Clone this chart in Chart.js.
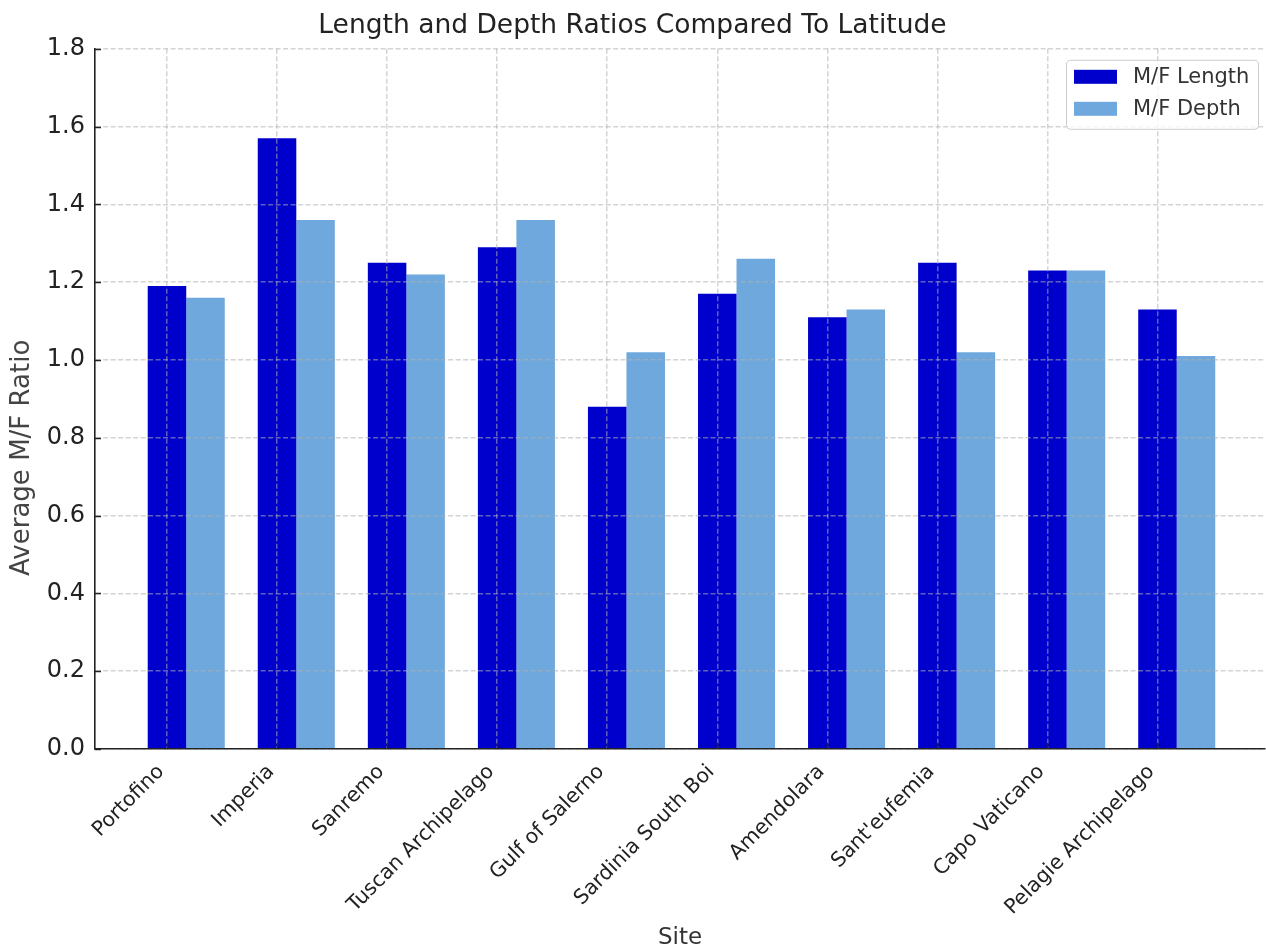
<!DOCTYPE html>
<html lang="en">
<head>
    <meta charset="UTF-8">
    <title>Length and Depth Ratios Compared To Latitude</title>
    <script src="https://cdn.jsdelivr.net/npm/chart.js"></script>
    <style>
        body {
            margin: 0;
            padding: 0;
            background: white;
        }
        .chart-container {
            width: 1266px;
            height: 949px;
        }
    </style>
</head>
<body>
    <div class="chart-container">
        <canvas id="barChart"></canvas>
    </div>

    <script>
        // data
        const sites = ['Portofino', 'Imperia', 'Sanremo', 'Tuscan Archipelago', 'Gulf of Salerno',
            'Sardinia South Boi', 'Amendolara', "Sant'eufemia", 'Capo Vaticano', 'Pelagie Archipelago'];
        const lengthRatios = [1.19, 1.57, 1.25, 1.29, 0.88, 1.17, 1.11, 1.25, 1.23, 1.13];
        const depthRatios = [1.16, 1.36, 1.22, 1.36, 1.02, 1.26, 1.13, 1.02, 1.23, 1.01];
        const yTicks = [0.0, 0.2, 0.4, 0.6, 0.8, 1.0, 1.2, 1.4, 1.6, 1.8];

        const barWidth = 0.35;
        const lengthColor = '#0000CD';
        const depthColor = '#6FA8DC';
        const gridColor = 'rgba(176, 176, 176, 0.55)';
        const font = 'DejaVu Sans';

        // bar pairs sit to the right of each tick (matplotlib x, x + width)
        const pairX = i => i + barWidth / 2;

        // inward tick marks like matplotlib's direction='in', plus the y label
        const innerTicks = {
            id: 'innerTicks',
            afterDraw(chart) {
                const { ctx, chartArea, scales } = chart;
                ctx.save();
                ctx.strokeStyle = '#222';
                ctx.lineWidth = 1.5;
                ctx.beginPath();
                yTicks.forEach(v => {
                    const py = Math.round(scales.y.getPixelForValue(v)) + 0.5;
                    ctx.moveTo(chartArea.left, py);
                    ctx.lineTo(chartArea.left + 6, py);
                });
                sites.forEach((_, i) => {
                    const px = Math.round(scales.x.getPixelForValue(i)) + 0.5;
                    ctx.moveTo(px, chartArea.bottom);
                    ctx.lineTo(px, chartArea.bottom - 6);
                });
                ctx.stroke();

                // y axis title sits a bit below the axis middle in the reference
                ctx.translate(22, chartArea.top + 409);
                ctx.rotate(-Math.PI / 2);
                ctx.font = '26px "' + font + '"';
                ctx.fillStyle = '#444';
                ctx.textAlign = 'center';
                ctx.textBaseline = 'middle';
                ctx.fillText('Average M/F Ratio', 0, 0);
                ctx.restore();
            }
        };

        // boxed legend in the upper right corner
        const boxLegend = {
            id: 'boxLegend',
            afterDraw(chart) {
                const { ctx, chartArea } = chart;
                const w = 192, h = 69;
                const x = chartArea.right - 7 - w;
                const y = chartArea.top + 11;
                ctx.save();
                ctx.beginPath();
                ctx.roundRect(x + 0.5, y + 0.5, w, h, 4);
                ctx.fillStyle = 'rgba(255, 255, 255, 0.8)';
                ctx.fill();
                ctx.strokeStyle = '#cccccc';
                ctx.lineWidth = 1;
                ctx.stroke();
                ctx.font = '21px "' + font + '"';
                ctx.textBaseline = 'middle';
                chart.data.datasets.forEach((ds, k) => {
                    const rowY = y + 10 + k * 32;
                    ctx.fillStyle = ds.backgroundColor;
                    ctx.fillRect(x + 8, rowY, 43, 14);
                    ctx.fillStyle = '#333';
                    ctx.fillText(ds.label, x + 67, rowY + 8);
                });
                ctx.restore();
            }
        };

        const ctx = document.getElementById('barChart').getContext('2d');

        new Chart(ctx, {
            type: 'bar',
            data: {
                datasets: [
                    {
                        label: 'M/F Length',
                        data: lengthRatios.map((v, i) => ({ x: pairX(i), y: v })),
                        backgroundColor: lengthColor
                    },
                    {
                        label: 'M/F Depth',
                        data: depthRatios.map((v, i) => ({ x: pairX(i), y: v })),
                        backgroundColor: depthColor
                    }
                ]
            },
            options: {
                responsive: true,
                maintainAspectRatio: false,
                animation: false,
                layout: {
                    padding: { left: 0, right: 1, top: 0, bottom: 0 }
                },
                datasets: {
                    bar: {
                        categoryPercentage: 2 * barWidth,
                        barPercentage: 1.0
                    }
                },
                scales: {
                    x: {
                        type: 'linear',
                        min: -0.654,
                        max: 9.977,
                        offset: false,
                        z: 1,
                        afterBuildTicks: axis => {
                            axis.ticks = sites.map((_, i) => ({ value: i }));
                        },
                        afterFit: axis => {
                            axis.height = 200;
                        },
                        grid: {
                            offset: false,
                            z: 1,
                            color: gridColor,
                            lineWidth: 1.5,
                            drawTicks: false
                        },
                        border: {
                            display: true,
                            color: '#222',
                            width: 1.6,
                            dash: [5, 2.5],
                            z: 2
                        },
                        ticks: {
                            autoSkip: false,
                            minRotation: 45,
                            maxRotation: 45,
                            padding: 11,
                            labelOffset: -6,
                            color: '#222',
                            font: { family: font, size: 20.5 },
                            callback: value => sites[value]
                        },
                        title: {
                            display: true,
                            text: 'Site',
                            color: '#333',
                            font: { family: font, size: 23 },
                            padding: { top: 0, bottom: -3 }
                        }
                    },
                    y: {
                        min: 0,
                        max: 1.8,
                        z: 1,
                        afterBuildTicks: axis => {
                            axis.ticks = yTicks.map(v => ({ value: v }));
                        },
                        afterFit: axis => {
                            axis.width = 95;
                        },
                        grid: {
                            z: 1,
                            color: gridColor,
                            lineWidth: 1.5,
                            drawTicks: false
                        },
                        border: {
                            display: true,
                            color: '#222',
                            width: 1.6,
                            dash: [5, 2.5],
                            z: 2
                        },
                        ticks: {
                            padding: 10,
                            color: '#222',
                            font: { family: font, size: 24 },
                            callback: value => value.toFixed(1)
                        }
                    }
                },
                plugins: {
                    legend: { display: false },
                    tooltip: { enabled: false },
                    title: {
                        display: true,
                        text: 'Length and Depth Ratios Compared To Latitude',
                        color: '#222',
                        font: { family: font, size: 26.5, weight: 'normal' },
                        padding: { top: 10, bottom: 7 }
                    }
                }
            },
            plugins: [innerTicks, boxLegend]
        });
    </script>
</body>
</html>
